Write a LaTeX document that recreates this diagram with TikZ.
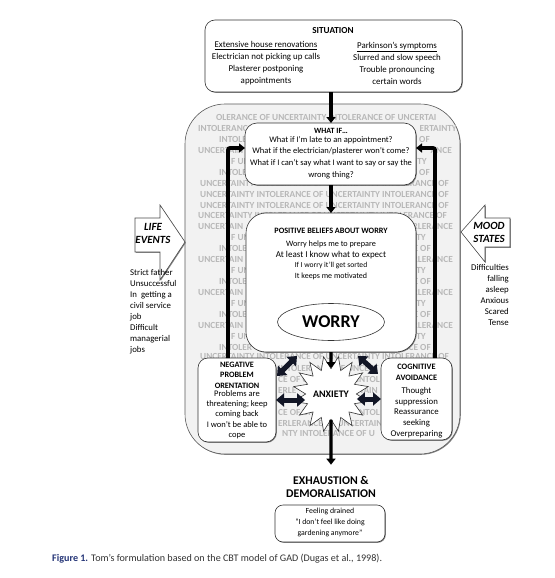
\documentclass[tikz,border=0pt]{standalone}
\usepackage{fontspec}
\setmainfont{Carlito}
\usetikzlibrary{arrows.meta,shapes.geometric,shadows}
\definecolor{capblue}{RGB}{38,54,120}
\definecolor{navy}{RGB}{18,22,38}
\def\full{UNCERTAINTY INTOLERANCE OF UNCERTAINTY INTOLERANCE OF}
\begin{document}
\begin{tikzpicture}[x=1pt,y=-1pt,
  shad/.style={drop shadow={shadow xshift=0.8pt,shadow yshift=-0.8pt,fill=black!60,opacity=0.8}},
  rbox/.style={draw=black!80, fill=white, line width=0.6pt, rounded corners=#1, inner sep=0pt, outer sep=0pt, shad},
  bgt/.style={font=\fontsize{9.3}{10}\selectfont\bfseries, text=black!28, inner sep=0pt},
  tx/.style={inner sep=0pt, align=center},
  flow/.style={line width=3.2pt, -{Triangle[width=9pt,length=6pt]}},
  fb/.style={line width=3.8pt, rounded corners=2pt, -{Triangle[width=9pt,length=6pt]}},
  dbl/.style={line width=5pt, draw=navy, {Triangle[width=13pt,length=8pt]}-{Triangle[width=13pt,length=8pt]}},
  blockarrow/.style={draw=black!70, fill=white, line width=0.6pt, shad},
]
\path[fill=white] (0,0) rectangle (554,578);
\useasboundingbox (0,0) rectangle (554,578);

% big frame
\node[draw=black!65, fill=black!5, line width=0.6pt, rounded corners=40pt, minimum width=275pt, minimum height=350pt, inner sep=0pt, outer sep=0pt, shad] (big) at (322.5,279) {};

% background text
\begin{scope}
\clip[rounded corners=40pt] (185,104) rectangle (460,454);
\foreach \k/\xx/\an/\str [count=\i] in {
 0/216/west/OLERANCE OF UNCERTAINTY INTOLERANCE OF UNCERTAI,
 1/198/west/INTOLERANC,
 1/457/east/ERTAINTY,
 2/219/west/INTOLE,
 2/430/east/E OF,
 3/198/west/UNCERTAIN,
 3/452/east/ANCE,
 4/231/west/F UN,
 4/427/east/TY,
 5/219/west/INTOLE,
 5/430/east/E OF,
 6/200/west/\full,
 7/200/west/\full,
 8/200/west/\full,
 9/198/west/\full,
 10/198/west/UNCERTAIN,
 10/453/east/RLERANCE,
 11/231/west/F UN,
 11/426/east/TY,
 12/219/west/INTOLE,
 12/431/east/E OF,
 13/198/west/UNCERTAIN,
 13/453/east/RLERANCE,
 14/231/west/F UN,
 14/426/east/TY,
 15/219/west/INTOLE,
 15/431/east/E OF,
 16/198/west/UNCERTAIN,
 16/453/east/RLERANCE,
 17/231/west/F UN,
 17/426/east/TY,
 18/219/west/INTOLE,
 18/431/east/E OF,
 19/198/west/UNCERTAIN,
 19/453/east/RLERANCE,
 20/231/west/F UN,
 20/426/east/TY,
 21/219/west/INTOLER,
 21/431/east/NCE OF,
 21.88/200/west/\full}
 \node[bgt, anchor=\an] (bg\i) at (\xx,{117.6+10.93*\k}) {\str};
\end{scope}
\begin{scope}
\clip (276,362) rectangle (381,446);
\foreach \k/\xx/\an/\str [count=\i] in {
 23/278/west/INTOLERANCE OF UNCERT,
 24/278/west/CE OF U,
 24/380/east/INTOL,
 25/278/west/ERLE,
 25/378/east/TAIN,
 27/278/west/CE OF UN,
 27/380/east/INTOL,
 28/278/west/ERLERANCE OF UNCERTAIN,
 29/282/west/NTY INTOLERANCE OF U}
 \node[bgt, anchor=\an] (bm\i) at (\xx,{117+10.93*\k}) {\str};
\end{scope}

% boxes
\node[rbox=10pt, minimum width=257pt, minimum height=72pt] (sit) at (333.5,56) {};
\node[rbox=12pt, minimum width=171pt, minimum height=62pt] (wi) at (330.5,154) {};
\node[rbox=20pt, minimum width=170pt, minimum height=139pt] (pos) at (331,282.5) {};
\node[ellipse, draw=black!80, fill=white, line width=0.6pt, minimum width=107pt, minimum height=37pt, inner sep=0pt, font=\fontsize{18}{18}\selectfont\bfseries] (worry) at (331,322) {WORRY};
\node[rbox=10pt, minimum width=78pt, minimum height=84pt] (neg) at (237,400) {};
\node[rbox=10pt, minimum width=71pt, minimum height=82pt] (cog) at (416.5,399) {};
\node[rbox=8pt, minimum width=110pt, minimum height=37pt] (exhb) at (330,523.5) {};
\node[star, star points=16, star point ratio=1.5, shape border rotate=11.25, minimum size=72pt, draw=black!80, fill=white, line width=0.6pt, inner sep=0pt, font=\fontsize{10}{10}\selectfont\bfseries] (anx) at (331,394) {ANXIETY};

% block arrows
\draw[blockarrow] (135,218) -- (160,218) -- (160,205) -- (185,242) -- (160,280) -- (160,252) -- (135,252) -- cycle;
\draw[blockarrow] (510,218) -- (485,218) -- (485,205) -- (461,232) -- (485,262) -- (485,247) -- (510,247) -- cycle;

% texts
\node[tx, font=\fontsize{9.2}{11}\selectfont\bfseries] (sitt) at (333,31) {SITUATION};
\node[tx, font=\fontsize{8.9}{12}\selectfont] (sitl) at (266,63) {\underline{Extensive house renovations}\\Electrician not picking up calls\\Plasterer postponing\\appointments};
\node[tx, font=\fontsize{8.9}{12}\selectfont] (sitr) at (397,63) {\underline{Parkinson’s symptoms}\\Slurred and slow speech\\Trouble pronouncing\\certain words};

\node[tx, font=\fontsize{8}{10}\selectfont\bfseries] (wit) at (331,131) {WHAT IF…};
\node[tx, font=\fontsize{8.5}{11.6}\selectfont] (wib) at (331,157.5) {What if I’m late to an appointment?\\What if the electrician/plasterer won’t come?\\What if I can’t say what I want to say or say the\\wrong thing?};

\node[tx, font=\fontsize{8.2}{10}\selectfont\bfseries] (post) at (331,231) {POSITIVE BELIEFS ABOUT WORRY};
\node[tx, font=\fontsize{8.2}{10}\selectfont] (p1) at (331,244) {Worry helps me to prepare};
\node[tx, font=\fontsize{9}{10}\selectfont] (p2) at (331,255) {At least I know what to expect};
\node[tx, font=\fontsize{7.6}{10}\selectfont] (p3) at (331,265.5) {If I worry it’ll get sorted};
\node[tx, font=\fontsize{8}{10}\selectfont] (p4) at (331,276) {It keeps me motivated};

\node[tx, font=\fontsize{8.2}{10.5}\selectfont\bfseries] (negt) at (237,375) {NEGATIVE\\PROBLEM\\ORENTATION};
\node[tx, font=\fontsize{8.5}{10.25}\selectfont] (negb) at (237,414.5) {Problems are\\threatening; keep\\coming back\\I won’t be able to\\cope};

\node[tx, font=\fontsize{8.3}{11}\selectfont\bfseries] (cogt) at (416.5,372.5) {COGNITIVE\\AVOIDANCE};
\node[tx, font=\fontsize{8.8}{10.75}\selectfont] (cogb) at (416.5,412.5) {Thought\\suppression\\Reassurance\\seeking\\Overpreparing};

\node[tx, font=\fontsize{11.8}{13}\selectfont\bfseries] (exh) at (331,486.5) {EXHAUSTION \&\\DEMORALISATION};
\node[tx, font=\fontsize{7.8}{11}\selectfont] (exht) at (330,522) {Feeling drained\\“I don’t feel like doing\\gardening anymore”};

\node[tx, font=\fontsize{11}{13}\selectfont\bfseries\itshape] (life) at (153,233.5) {LIFE\\EVENTS};
\node[tx, font=\fontsize{11}{13}\selectfont\bfseries\itshape] (mood) at (489,232.5) {MOOD\\STATES};
\node[inner sep=0pt, align=left, anchor=west, font=\fontsize{8.8}{11}\selectfont] (lifel) at (130,311.5) {Strict father\\Unsuccessful\\In\ \ getting a\\civil service\\job\\Difficult\\managerial\\jobs};
\node[inner sep=0pt, align=right, anchor=east, font=\fontsize{8.8}{11}\selectfont] (moodl) at (509,294.5) {Difficulties\\falling\\asleep\\Anxious\\Scared\\Tense};

\node[inner sep=0pt, anchor=west, text=black!80, font=\fontsize{10.1}{12}\selectfont] (cap) at (52,559) {\textcolor{capblue}{\bfseries Figure 1.} Tom’s formulation based on the CBT model of GAD (Dugas et al., 1998).};

% connectors
\draw[flow] (sit.south -| anx) -- (wi.north -| anx);
\draw[flow] (wi.south -| anx) -- (pos.north -| anx);
\draw[flow] (pos.south -| anx) -- (anx);
\draw[flow, shorten >=11pt] (anx) -- (exh);

\coordinate (fl) at (228,148);
\coordinate (fr) at (435,148);
\draw[fb] (neg.north -| fl) -- (fl) -- (wi.west |- fl);
\draw[fb] (cog.north -| fr) -- (fr) -- (wi.east |- fr);

\draw[dbl] (neg.east) -- (anx.west |- neg.east);
\draw[dbl] (anx.east |- cog.west) -- (cog.west);
\coordinate (d1) at (277,376);
\coordinate (d2) at (297,356);
\coordinate (d3) at (358,356);
\coordinate (d4) at (378,374);
\draw[dbl] (d1) -- (d2);
\draw[dbl] (d3) -- (d4);
\end{tikzpicture}
\end{document}
